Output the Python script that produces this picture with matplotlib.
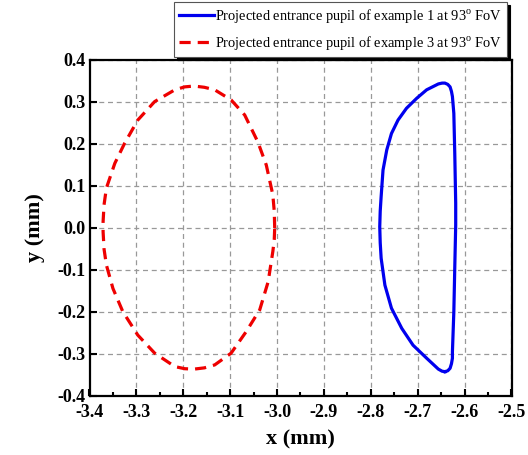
import numpy as np
import matplotlib
matplotlib.use("Agg")
import matplotlib.pyplot as plt
from matplotlib.ticker import MultipleLocator, FormatStrFormatter

plt.rcParams['font.family'] = ['Liberation Serif', 'DejaVu Serif']
plt.rcParams['axes.unicode_minus'] = False
plt.rcParams['mathtext.fontset'] = 'custom'
plt.rcParams['mathtext.rm'] = 'Liberation Serif'

# projected pupil of example 1 (blue, solid)
ex1_x = [-2.642, -2.636, -2.631, -2.628, -2.626, -2.626, -2.623, -2.621, -2.619, -2.619,
         -2.621, -2.623, -2.626, -2.628, -2.631, -2.636, -2.642, -2.648, -2.656, -2.681,
         -2.702, -2.724, -2.742, -2.756, -2.766, -2.770, -2.774, -2.778, -2.780, -2.781,
         -2.780, -2.778, -2.770, -2.756, -2.734, -2.710, -2.681, -2.656, -2.648, -2.642]
ex1_y = [-0.342, -0.340, -0.334, -0.323, -0.310, -0.295, -0.200, -0.095, 0.007, 0.059,
         0.178, 0.273, 0.313, 0.325, 0.336, 0.342, 0.345, 0.345, 0.343, 0.329,
         0.309, 0.285, 0.257, 0.225, 0.186, 0.162, 0.138, 0.075, 0.040, 0.003,
         -0.035, -0.072, -0.136, -0.191, -0.239, -0.279, -0.310, -0.336, -0.341, -0.342]

# projected pupil of example 3 (red, dashed)
ex3_x = [-3.005, -3.006, -3.009, -3.023, -3.041, -3.069, -3.098, -3.133, -3.155, -3.177,
         -3.197, -3.218, -3.261, -3.297, -3.325, -3.346, -3.364, -3.369, -3.371, -3.371,
         -3.369, -3.364, -3.350, -3.329, -3.297, -3.261, -3.218, -3.197, -3.177, -3.155,
         -3.133, -3.098, -3.066, -3.037, -3.019, -3.009, -3.006, -3.005]
ex3_y = [0.000, 0.040, 0.079, 0.150, 0.205, 0.269, 0.305, 0.329, 0.335, 0.338,
         0.336, 0.329, 0.301, 0.257, 0.202, 0.154, 0.095, 0.055, 0.015, -0.009,
         -0.050, -0.088, -0.144, -0.199, -0.255, -0.298, -0.330, -0.335, -0.336, -0.333,
         -0.326, -0.298, -0.247, -0.195, -0.128, -0.056, -0.028, 0.000]

labels = ['Projected entrance pupil of example 1 at 93$^{\\mathrm{o}}$ FoV',
          'Projected entrance pupil of example 3 at 93$^{\\mathrm{o}}$ FoV']

fig = plt.figure(figsize=(5.28, 4.55), dpi=100)
ax = fig.add_axes([89.5/528, 1-396/455, 422/528, 336/455])

ax.plot(ex1_x, ex1_y, color='#0000ee', lw=2.3, solid_joinstyle='round', label=labels[0])
ax.plot(ex3_x, ex3_y, color='#ee0000', lw=2.3, ls=(0, (3.5, 2.2)), dash_joinstyle='round',
        label=labels[1])

ax.set_xlim(-3.4, -2.5)
ax.set_ylim(-0.4, 0.4)
ax.xaxis.set_major_locator(MultipleLocator(0.1))
ax.xaxis.set_minor_locator(MultipleLocator(0.05))
ax.yaxis.set_major_locator(MultipleLocator(0.1))
ax.xaxis.set_major_formatter(FormatStrFormatter('%.1f'))
ax.yaxis.set_major_formatter(FormatStrFormatter('%.1f'))
ax.tick_params(which='both', direction='in', width=1.5)
ax.tick_params(which='major', length=5, labelsize=13, pad=3)
ax.tick_params(axis='x', which='major', pad=6)
ax.tick_params(which='minor', length=3)
for lab in ax.get_xticklabels() + ax.get_yticklabels():
    lab.set_fontweight('bold')

ax.grid(True, which='major', color='#999999', ls=(0, (4, 3)), lw=0.9)
for s in ax.spines.values():
    s.set_linewidth(1.6)

ax.set_xlabel('x (mm)', fontsize=16, fontweight='bold', labelpad=6)
ax.set_ylabel('y (mm)', fontsize=16, fontweight='bold', labelpad=9)

leg = fig.legend(loc='upper right', bbox_to_anchor=(507/528, 1-2/455),
                 fontsize=10.4, frameon=True, fancybox=False, shadow={'color': 'black', 'alpha': 1},
                 borderaxespad=0, handlelength=2.4, handletextpad=0.1,
                 borderpad=0.35, labelspacing=0.6)
leg.get_frame().set_edgecolor('#555555')
leg.get_frame().set_linewidth(0.8)

fig.savefig('out.png', dpi=100)
